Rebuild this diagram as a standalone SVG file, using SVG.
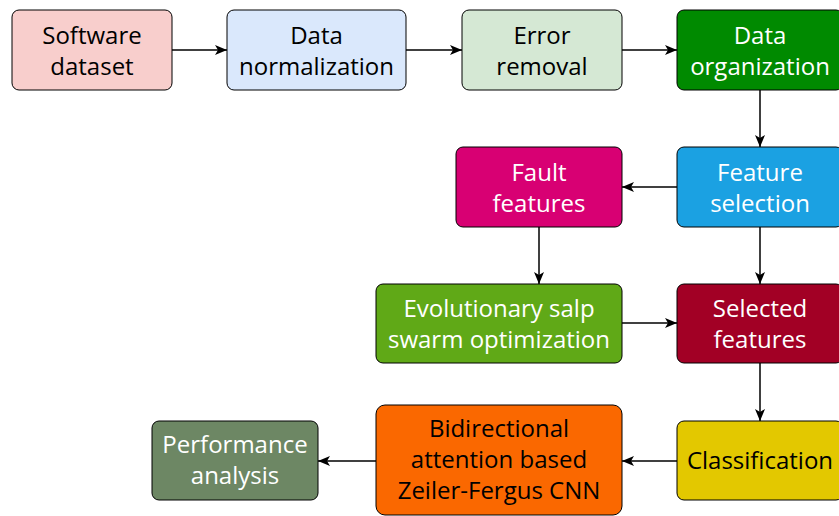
<svg xmlns="http://www.w3.org/2000/svg" width="839" height="516" viewBox="0 0 839 516">
<defs>
<marker id="arr" viewBox="0 0 12 11" refX="12" refY="5.5" markerWidth="12" markerHeight="11" markerUnits="userSpaceOnUse" orient="auto">
<path d="M0,0.5 L12,5.5 L0,10.5 L3,5.5 Z" fill="#000"/>
</marker>
<style>
.box{stroke:#000;stroke-width:1}
text{font-family:"Open Sans","Noto Sans",sans-serif;font-size:24px;text-anchor:middle}
.w{fill:#fff}
.k{fill:#000}
.c{stroke:#000;stroke-width:1.5;fill:none;marker-end:url(#arr)}
</style>
</defs>
<rect width="839" height="516" fill="#fff"/>
<g id="n1"><rect class="box" x="12" y="10" width="160" height="80" rx="7" fill="#f8cecc"/><text class="k"><tspan x="92" y="44">Software</tspan><tspan x="92" y="75">dataset</tspan></text></g>
<g id="n2"><rect class="box" x="227" y="10" width="179" height="80" rx="7" fill="#dae8fc"/><text class="k"><tspan x="316.5" y="44">Data</tspan><tspan x="316.5" y="75">normalization</tspan></text></g>
<g id="n3"><rect class="box" x="462" y="10" width="160" height="80" rx="7" fill="#d5e8d4"/><text class="k"><tspan x="542" y="44">Error</tspan><tspan x="542" y="75">removal</tspan></text></g>
<g id="n4"><rect class="box" x="677" y="10" width="166" height="80" rx="7" fill="#008a00"/><text class="w"><tspan x="760" y="44">Data</tspan><tspan x="760" y="75">organization</tspan></text></g>
<g id="n5"><rect class="box" x="677" y="147" width="166" height="80" rx="7" fill="#1ba1e2"/><text class="w"><tspan x="760" y="181">Feature</tspan><tspan x="760" y="212">selection</tspan></text></g>
<g id="n6"><rect class="box" x="456" y="147" width="166" height="80" rx="7" fill="#d80073"/><text class="w"><tspan x="539" y="181">Fault</tspan><tspan x="539" y="212">features</tspan></text></g>
<g id="n7"><rect class="box" x="376" y="284" width="246" height="79" rx="7" fill="#60a917"/><text class="w"><tspan x="499" y="317">Evolutionary salp</tspan><tspan x="499" y="348">swarm optimization</tspan></text></g>
<g id="n8"><rect class="box" x="677" y="284" width="166" height="79" rx="7" fill="#a20025"/><text class="w"><tspan x="760" y="317">Selected</tspan><tspan x="760" y="348">features</tspan></text></g>
<g id="n9"><rect class="box" x="677" y="421" width="166" height="79" rx="7" fill="#e3c800"/><text class="k"><tspan x="760" y="469">Classification</tspan></text></g>
<g id="n10"><rect class="box" x="376" y="405" width="246" height="110" rx="9" fill="#fa6800"/><text class="k"><tspan x="499" y="437">Bidirectional</tspan><tspan x="499" y="468">attention based</tspan><tspan x="499" y="499">Zeiler-Fergus CNN</tspan></text></g>
<g id="n11"><rect class="box" x="152" y="421" width="166" height="79" rx="7" fill="#6d8764"/><text class="w"><tspan x="235" y="453">Performance</tspan><tspan x="235" y="484">analysis</tspan></text></g>
<g id="connectors">
<path class="c" d="M172,50 H227"/>
<path class="c" d="M406,50 H462"/>
<path class="c" d="M622,50 H677"/>
<path class="c" d="M760,90 V147"/>
<path class="c" d="M677,187 H622"/>
<path class="c" d="M539,227 V284"/>
<path class="c" d="M760,227 V284"/>
<path class="c" d="M622,323 H677"/>
<path class="c" d="M760,363 V421"/>
<path class="c" d="M677,461 H622"/>
<path class="c" d="M376,461 H318"/>
</g>
</svg>
